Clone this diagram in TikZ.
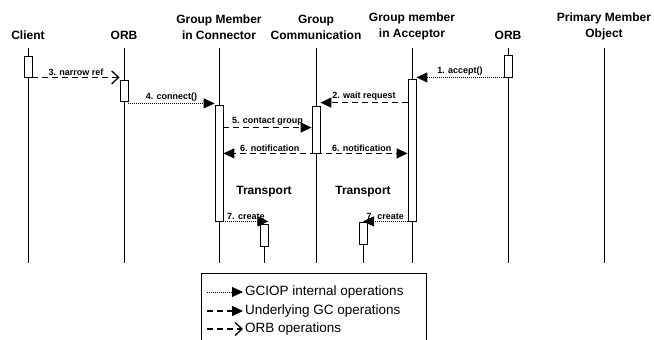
\documentclass[tikz,border=0pt]{standalone}
\usepackage{fontspec}
\setmainfont{Liberation Sans}
\usetikzlibrary{arrows.meta,positioning}

\tikzset{
  life/.style={line width=1pt},
  actbox/.style={draw, line width=0.8pt, fill=white, minimum width=8pt, inner sep=0pt},
  hdr/.style={font=\fontsize{12}{16}\selectfont\bfseries, align=center, anchor=south, inner sep=0pt},
  msglbl/.style={font=\fontsize{9}{10}\selectfont\bfseries, above, inner sep=1.5pt},
  trlbl/.style={font=\fontsize{12}{14}\selectfont\bfseries},
  lgtext/.style={font=\fontsize{13.5}{15}\selectfont, anchor=west, inner sep=2pt},
  gciop/.style={line width=1pt, dash pattern=on 1pt off 1pt, -{Triangle[length=11pt,width=10pt]}},
  gcop/.style={line width=1.3pt, dash pattern=on 6pt off 4pt, -{Triangle[length=11pt,width=10pt]}},
  orbop/.style={line width=1.3pt, dash pattern=on 6pt off 4pt, -{Straight Barb[length=7pt,width=13pt,line width=1.3pt]}},
}

\begin{document}
\begin{tikzpicture}[x=1pt, y=-1pt]
  \useasboundingbox (0,0) rectangle (654,340);

  % Headers
  \node[hdr] (hcl)  at (28,40)  {Client};
  \node[hdr] (hor1) at (124,40) {ORB};
  \node[hdr] (hcn)  at (219,40) {Group Member\\in Connector};
  \node[hdr] (hgc)  at (316,40) {Group\\Communication};
  \node[hdr] (hac)  at (412,40) {Group member\\in Acceptor};
  \node[hdr] (hor2) at (508,40) {ORB};
  \node[hdr] (hpm)  at (604,40) {Primary Member\\Object};

  % Lifelines
  \foreach \x/\n in {28/cl, 124/or1, 219/cn, 316/gc, 412/ac, 508/or2, 604/pm} {
    \coordinate (\n-top) at (\x,48);
    \coordinate (\n-bot) at (\x,263);
    \draw[life] (\n-top) -- (\n-bot);
  }

  % Activation boxes
  \node[actbox, minimum height=21pt]  (cl1) at (28,66.5)  {};
  \node[actbox, minimum height=21pt]  (or1) at (124,90.5) {};
  \node[actbox, minimum height=116pt] (cn1) at (219,163)  {};
  \node[actbox, minimum height=47pt]  (gc1) at (316,129.5) {};
  \node[actbox, minimum height=142pt] (ac1) at (412,150)  {};
  \node[actbox, minimum height=22pt]  (or2) at (508,66)   {};

  % Transports
  \node[trlbl] (tl1) at (264,192) {Transport};
  \node[trlbl] (tl2) at (363,192) {Transport};
  \coordinate (tr1-bot) at (264,263);
  \coordinate (tr2-bot) at (363,263);
  \draw[life] (264,235) -- (tr1-bot);
  \draw[life] (363,233) -- (tr2-bot);
  \node[actbox, minimum height=22pt] (tr1) at (264,235) {};
  \node[actbox, minimum height=22pt] (tr2) at (363,233) {};

  % Messages
  \draw[gciop] (or2.south west) -- (ac1.east |- or2.south west)
    node[msglbl, midway] {1. accept()};
  \draw[gcop] ([yshift=3pt]gc1.north west -| ac1.west) -- ([yshift=3pt]gc1.north east)
    node[msglbl, midway] {2. wait request};
  \draw[orbop] (cl1.south east) -- (or1.west |- cl1.south east)
    node[msglbl, midway] {3. narrow ref};
  \draw[gciop] ([yshift=-2pt]or1.south east) -- ([yshift=-2pt]or1.south east -| cn1.west)
    node[msglbl, midway] {4. connect()};
  \draw[gcop] ([yshift=2pt]gc1.west -| cn1.east) -- ([yshift=2pt]gc1.west)
    node[msglbl, midway] {5. contact group};
  \draw[gcop] (gc1.south) -- (cn1.east |- gc1.south)
    node[msglbl, midway] {6. notification};
  \draw[gcop] (gc1.south) -- (ac1.west |- gc1.south)
    node[msglbl, midway] {6. notification};
  \draw[gciop] (cn1.south east) -- (tr1.north east |- cn1.south east)
    node[msglbl, midway] {7. create};
  \draw[gciop] (ac1.south west) -- (tr2.north |- ac1.south west)
    node[msglbl, midway] {7. create};

  % Legend
  \draw[line width=0.8pt] (201,342) -- (201,273) -- (426,273) -- (426,342);
  \node[lgtext] (lg1) at (243,292) {GCIOP internal operations};
  \node[lgtext] (lg2) at (243,311) {Underlying GC operations};
  \node[lgtext] (lg3) at (243,329) {ORB operations};
  \coordinate (lk1) at (207,292);
  \coordinate (lk2) at (207,311);
  \coordinate (lk3) at (207,329);
  \draw[gciop] (lk1) -- (lg1.west);
  \draw[gcop]  (lk2) -- (lg2.west);
  \draw[orbop] (lk3) -- (lg3.west);
\end{tikzpicture}
\end{document}
